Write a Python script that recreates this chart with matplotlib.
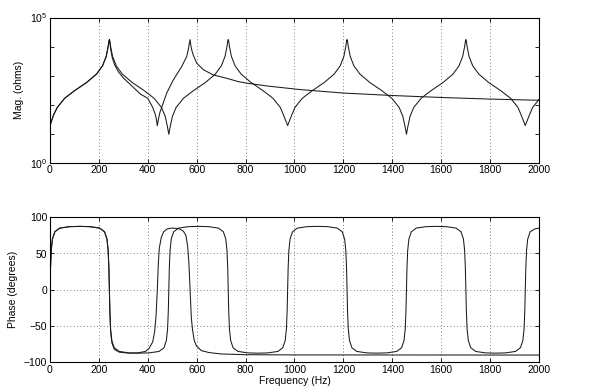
import numpy as np
import matplotlib
matplotlib.use("Agg")
import matplotlib.pyplot as plt
from matplotlib.ticker import FixedLocator, NullFormatter, LogFormatterSciNotation

plt.rcParams['font.family'] = ['Liberation Sans', 'DejaVu Sans']
plt.rcParams['font.size'] = 7.5

# impedance magnitude, system A (ohms)
f_mag_a = [0, 15, 30, 60, 100, 150, 190, 215, 230, 238, 241, 243, 245, 248, 256, 271, 296, 336,
           386, 426, 456, 471, 480, 486, 492, 501, 516, 546, 586, 636, 676, 701, 716, 724, 727,
           729, 731, 734, 742, 757, 782, 822, 872, 912, 942, 957, 972, 987, 1002, 1032, 1072,
           1122, 1162, 1187, 1202, 1210, 1213, 1215, 1217, 1220, 1228, 1243, 1268, 1308, 1358,
           1398, 1428, 1443, 1452, 1458, 1464, 1473, 1488, 1518, 1558, 1608, 1648, 1673, 1688,
           1696, 1699, 1701, 1703, 1706, 1714, 1729, 1754, 1794, 1844, 1884, 1914, 1929, 1944,
           1959, 1974, 2000]
mag_a = [19, 45, 80, 165, 300, 580, 1120, 2170, 4580, 10100, 15200, 17400, 15200, 10100, 4580,
         2170, 1120, 580, 300, 165, 80, 40, 18, 9.5, 18, 40, 80, 165, 300, 580, 1120, 2170, 4580,
         10100, 15200, 17400, 15200, 10100, 4580, 2170, 1120, 580, 300, 165, 80, 40, 19, 40, 80,
         165, 300, 580, 1120, 2170, 4580, 10100, 15200, 17400, 15200, 10100, 4580, 2170, 1120,
         580, 300, 165, 80, 40, 18, 9.5, 18, 40, 80, 165, 300, 580, 1120, 2170, 4580, 10100,
         15200, 17400, 15200, 10100, 4580, 2170, 1120, 580, 300, 165, 80, 40, 19, 40, 80, 150]

# impedance magnitude, system B (ohms)
f_mag_b = [0, 15, 30, 60, 100, 150, 190, 215, 230, 238, 241, 243, 245, 248, 255, 265, 280, 300,
           340, 370, 400, 420, 430, 435, 439, 443, 450, 457, 477, 504, 538, 559, 566, 570, 573,
           576, 580, 586, 600, 627, 668, 722, 770, 804, 886, 1022, 1200, 1404, 1608, 1800, 2000]
mag_b = [19, 45, 80, 165, 300, 580, 1120, 2170, 4580, 10100, 15200, 17400, 14000, 8500, 4000,
         2300, 1350, 830, 400, 230, 165, 80, 48, 32, 18.6, 30, 55, 80, 245, 700, 2000, 4500,
         8000, 13000, 17400, 11000, 7500, 5100, 2700, 1600, 1050, 810, 620, 550, 440, 330, 250,
         205, 175, 155, 141]

# phase, system A (degrees)
f_ph_a = [0, 2, 5, 10, 20, 40, 80, 121, 163, 203, 223, 233, 238, 241, 243, 245, 248, 253, 263,
          283, 323, 364, 406, 446, 466, 476, 481, 484, 486, 488, 491, 496, 506, 526, 566, 607,
          649, 689, 709, 719, 724, 727, 729, 731, 734, 739, 749, 769, 809, 850, 892, 932, 952,
          962, 967, 970, 972, 974, 977, 982, 992, 1012, 1052, 1093, 1135, 1175, 1195, 1205, 1210,
          1213, 1215, 1217, 1220, 1225, 1235, 1255, 1295, 1336, 1378, 1418, 1438, 1448, 1453,
          1456, 1458, 1460, 1463, 1468, 1478, 1498, 1538, 1579, 1621, 1661, 1681, 1691, 1696,
          1699, 1701, 1703, 1706, 1711, 1721, 1741, 1781, 1822, 1864, 1904, 1924, 1934, 1939,
          1942, 1944, 1946, 1949, 1954, 1964, 1984, 2000]
ph_a = [0, 29, 54, 70, 80, 85, 87, 87.4, 87, 85, 80, 70, 54, 29, 0, -29, -54, -70, -80, -85, -87,
        -87.4, -87, -85, -80, -70, -54, -29, 0, 29, 54, 70, 80, 85, 87, 87.4, 87, 85, 80, 70, 54,
        29, 0, -29, -54, -70, -80, -85, -87, -87.4, -87, -85, -80, -70, -54, -29, 0, 29, 54, 70,
        80, 85, 87, 87.4, 87, 85, 80, 70, 54, 29, 0, -29, -54, -70, -80, -85, -87, -87.4, -87,
        -85, -80, -70, -54, -29, 0, 29, 54, 70, 80, 85, 87, 87.4, 87, 85, 80, 70, 54, 29, 0, -29,
        -54, -70, -80, -85, -87, -87.4, -87, -85, -80, -70, -54, -29, 0, 29, 54, 70, 80, 84, 85]

# phase, system B (degrees)
f_ph_b = [0, 2, 5, 10, 20, 40, 80, 121, 163, 203, 223, 233, 238, 241, 243, 245, 248, 253, 263,
          283, 323, 360, 390, 405, 420, 428, 434, 439, 443, 447, 455, 465, 480, 500, 525, 545,
          556, 563, 568, 573, 578, 583, 590, 600, 620, 650, 700, 800, 1000, 2000]
ph_b = [0, 29, 54, 70, 80, 85, 87, 87.4, 87, 85, 80, 70, 54, 29, 0, -32, -58, -73, -82, -86,
        -87.4, -87, -85, -81, -72, -58, -35, 0, 35, 57, 72, 80, 84, 85, 84.5, 81, 75, 60, 38, 0,
        -38, -55, -70, -78, -84, -86.5, -88.5, -89.5, -89.8, -90]

line_kw = dict(color='0.1', lw=0.75)
grid_kw = dict(color='0.35', linestyle=(0, (1, 3)), lw=0.6)

fig = plt.figure(figsize=(6, 3.9), dpi=100)
ax1 = fig.add_axes([0.0833, 0.583, 0.815, 0.372])
ax2 = fig.add_axes([0.0833, 0.071, 0.815, 0.372])

ax1.semilogy(f_mag_a, mag_a, **line_kw)
ax1.semilogy(f_mag_b, mag_b, **line_kw)
ax1.set_xlim(0, 2000)
ax1.set_ylim(1, 1e5)
ax1.yaxis.set_major_locator(FixedLocator([1, 1e5]))
ax1.yaxis.set_major_formatter(LogFormatterSciNotation())
ax1.yaxis.set_minor_locator(FixedLocator([10, 100, 1000, 1e4]))
ax1.yaxis.set_minor_formatter(NullFormatter())
ax1.set_xticks(np.arange(0, 2001, 200))
ax1.xaxis.grid(True, **grid_kw)
ax1.set_ylabel('Mag. (ohms)')

ax2.plot(f_ph_a, ph_a, **line_kw)
ax2.plot(f_ph_b, ph_b, **line_kw)
ax2.set_xlim(0, 2000)
ax2.set_ylim(-100, 100)
ax2.set_xticks(np.arange(0, 2001, 200))
ax2.set_yticks([-100, -50, 0, 50, 100])
ax2.grid(True, **grid_kw)
ax2.set_ylabel('Phase (degrees)')
ax2.set_xlabel('Frequency (Hz)', labelpad=1)

for ax in (ax1, ax2):
    ax.set_axisbelow(True)
    ax.tick_params(which='both', direction='in', top=True, right=True, length=3, width=0.6, pad=2)
    for s in ax.spines.values():
        s.set_linewidth(0.8)

fig.savefig('out.png', dpi=100)
